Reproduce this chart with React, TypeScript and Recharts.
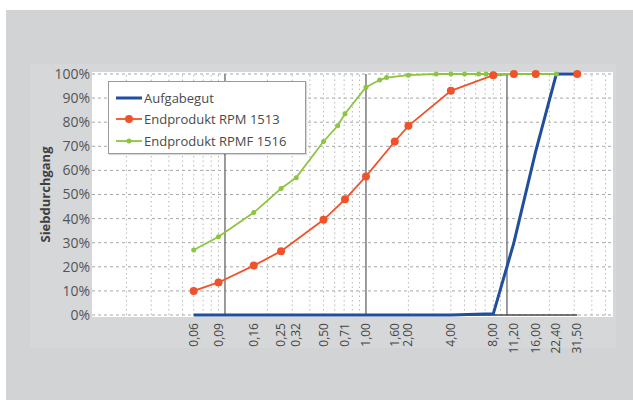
import React from 'react';
import { LineChart, Line, XAxis, YAxis, CartesianGrid, ReferenceLine, Legend } from 'recharts';

const xTicks = [0.06, 0.09, 0.16, 0.25, 0.32, 0.5, 0.71, 1.0, 1.6, 2.0, 4.0, 8.0, 11.2, 16.0, 22.4, 31.5];
const yTicks = [0, 10, 20, 30, 40, 50, 60, 70, 80, 90, 100];
const majorGrid = [0.1, 1, 10];
const minorGrid = [0.02, 0.03, 0.04, 0.05, 0.06, 0.07, 0.08, 0.09, 0.2, 0.3, 0.4, 0.5, 0.6, 0.7, 0.8, 0.9, 2, 3, 4, 5, 6, 7, 8, 9, 20, 30, 40, 50];

const aufgabeSizes = [0.06, 4.0, 8.0, 11.2, 16.0, 22.4, 31.5];
const aufgabeValues = [0, 0, 0.5, 30, 68, 100, 100];

const rpmSizes = [0.06, 0.09, 0.16, 0.25, 0.5, 0.71, 1.0, 1.6, 2.0, 4.0, 8.0, 11.2, 16.0, 31.5];
const rpmValues = [10, 13.5, 20.5, 26.5, 39.5, 48, 57.5, 72, 78.5, 93, 99.5, 100, 100, 100];

const rpmfSizes = [0.06, 0.09, 0.16, 0.25, 0.32, 0.5, 0.63, 0.71, 1.0, 1.25, 1.4, 2.0, 3.15, 4.0, 5.0, 6.3, 7.1, 8.0, 11.2, 16.0, 22.4];
const rpmfValues = [27, 32.5, 42.5, 52.5, 57, 72, 78.5, 83.5, 94.5, 97.5, 98.5, 99.5, 100, 100, 100, 100, 100, 100, 100, 100, 100];

const seriesNames = ['Aufgabegut', 'Endprodukt RPM 1513', 'Endprodukt RPMF 1516'];
const seriesColors = ['#1f4f9e', '#f0532b', '#8cc540'];

const toPoints = (xs: number[], ys: number[]) => xs.map((x, i) => ({ x, y: ys[i] }));
const aufgabeData = toPoints(aufgabeSizes, aufgabeValues);
const rpmData = toPoints(rpmSizes, rpmValues);
const rpmfData = toPoints(rpmfSizes, rpmfValues);

const FONT = '"Open Sans", "DejaVu Sans", sans-serif';
const fmt = (v: number) => v.toFixed(2).replace('.', ',');

const XTick = (props: any) => {
  const { x, y, payload } = props;
  return (
    <g transform={`translate(${x},${y + 6})`}>
      <text transform="rotate(-90)" x={0} y={0} dy={4} textAnchor="end" fill="#454545" fontSize={12} fontFamily={FONT}>
        {fmt(payload.value)}
      </text>
    </g>
  );
};

const LegendBox = () => (
  <div style={{ width: 198, height: 73, boxSizing: 'border-box', background: '#fff', border: '1px solid #9a9a9a', boxShadow: '1px 1px 1px rgba(0,0,0,0.15)', padding: '5px 0 0 7px', fontFamily: FONT, fontSize: 13, color: '#4a4a4a' }}>
    {seriesNames.map((name, i) => (
      <div key={name} style={{ display: 'flex', alignItems: 'center', height: 21.5, whiteSpace: 'nowrap' }}>
        <svg width={26} height={10} style={{ marginRight: 2 }}>
          <line x1={0} y1={5} x2={26} y2={5} stroke={seriesColors[i]} strokeWidth={i === 0 ? 3 : 1.8} />
          {i > 0 && <circle cx={13} cy={5} r={i === 1 ? 4 : 2.5} fill={seriesColors[i]} />}
        </svg>
        <span>{name}</span>
      </div>
    ))}
  </div>
);

export default function App() {
  return (
    <div style={{ position: 'absolute', left: 0, top: 0, width: 633, height: 400, background: '#ffffff', overflow: 'hidden' }}>
      <div style={{ position: 'absolute', left: 6, top: 10, width: 627, height: 390, background: '#d2d3d5' }} />
      <div style={{ position: 'absolute', left: 30, top: 64, width: 586, height: 284, background: '#d6d7d9' }} />
      <div style={{ position: 'absolute', left: 92, top: 72, width: 521, height: 245, background: '#ffffff' }} />
      <div style={{ position: 'absolute', left: 0, top: 0 }}>
        <LineChart width={633} height={400} margin={{ top: 74, right: 20, bottom: 55, left: 0 }}>
          <CartesianGrid vertical={false} stroke="#a8a8a8" strokeDasharray="3 3" />
          {minorGrid.map((v) => (
            <ReferenceLine key={`m${v}`} x={v} stroke="#b8b8b8" strokeDasharray="1.5 3" ifOverflow="hidden" />
          ))}
          {majorGrid.map((v) => (
            <ReferenceLine key={`M${v}`} x={v} stroke="#7a7a7a" strokeWidth={1.5} />
          ))}
          <ReferenceLine segment={[{ x: 0.06, y: 0 }, { x: 31.5, y: 0 }]} stroke="#4a4a4a" strokeWidth={1.5} />
          <XAxis
            type="number"
            dataKey="x"
            scale="log"
            domain={[0.0114, 56.5]}
            allowDataOverflow
            ticks={xTicks}
            interval={0}
            height={30}
            axisLine={false}
            tickLine={false}
            tickSize={0}
            tick={<XTick />}
          />
          <YAxis
            type="number"
            domain={[0, 100]}
            ticks={yTicks}
            width={92}
            axisLine={false}
            tickLine={false}
            tickSize={0}
            tickMargin={2}
            tickFormatter={(v: number) => `${v}%`}
            tick={{ fill: '#555', fontSize: 14, fontFamily: FONT }}
            label={{ value: 'Siebdurchgang', angle: -90, position: 'insideLeft', offset: 0, dx: 45, style: { fill: '#404040', fontSize: 13, fontWeight: 700, fontFamily: FONT, textAnchor: 'middle' } }}
          />
          <Legend layout="vertical" align="center" verticalAlign="middle" wrapperStyle={{ left: 108, top: 81, width: 198 }} content={<LegendBox />} />
          <Line data={rpmData} dataKey="y" stroke={seriesColors[1]} strokeWidth={1.8} dot={false} isAnimationActive={false} legendType="none" />
          <Line data={rpmfData} dataKey="y" stroke={seriesColors[2]} strokeWidth={1.8} dot={{ r: 2.5, fill: seriesColors[2], stroke: 'none' }} isAnimationActive={false} />
          <Line data={aufgabeData} dataKey="y" stroke={seriesColors[0]} strokeWidth={3} dot={false} isAnimationActive={false} />
          <Line data={rpmData} dataKey="y" stroke="none" dot={{ r: 4, fill: seriesColors[1], stroke: 'none' }} isAnimationActive={false} legendType="none" />
        </LineChart>
      </div>
    </div>
  );
}
